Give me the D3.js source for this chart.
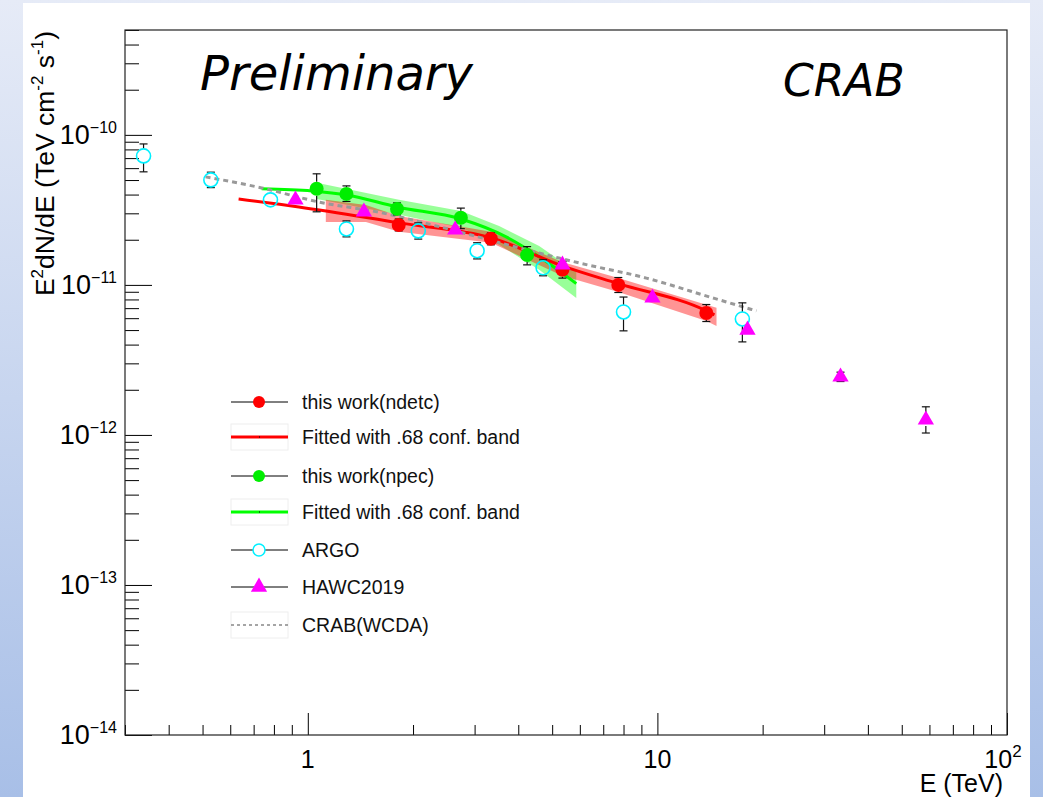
<!DOCTYPE html>
<html>
<head>
<meta charset="utf-8">
<script src="https://cdn.jsdelivr.net/npm/d3@7"></script>
<style>
  body { margin: 0; }
  svg { display: block; }
</style>
</head>
<body>
<svg id="chart" width="1043" height="797"></svg>
<script>
// ---- data (E in TeV, E^2 dN/dE in TeV cm^-2 s^-1) ----
var ndetcE  = [1.82, 3.34, 5.35, 7.73, 13.8];
var ndetcF  = [2.51e-11, 2.03e-11, 1.26e-11, 1.0e-11, 6.5e-12];
var ndetcLo = [2.29e-11, 1.85e-11, 1.11e-11, 8.9e-12, 5.7e-12];
var ndetcHi = [2.75e-11, 2.22e-11, 1.43e-11, 1.12e-11, 7.4e-12];

var npecE  = [1.06, 1.29, 1.80, 2.74, 4.24];
var npecF  = [4.37e-11, 4.04e-11, 3.21e-11, 2.80e-11, 1.58e-11];
var npecLo = [3.07e-11, 3.6e-11, 2.93e-11, 2.37e-11, 1.36e-11];
var npecHi = [5.5e-11, 4.57e-11, 3.52e-11, 3.25e-11, 1.8e-11];

var argoE  = [0.339, 0.528, 0.782, 1.29, 2.07, 3.05, 4.71, 8.0, 17.5];
var argoF  = [7.24e-11, 5.01e-11, 3.69e-11, 2.36e-11, 2.29e-11, 1.69e-11, 1.30e-11, 6.6e-12, 5.93e-12];
var argoLo = [5.67e-11, 4.45e-11, 3.69e-11, 2.09e-11, 2.02e-11, 1.49e-11, 1.15e-11, 4.94e-12, 4.17e-12];
var argoHi = [8.7e-11, 5.64e-11, 3.69e-11, 2.67e-11, 2.59e-11, 1.91e-11, 1.47e-11, 8.3e-12, 7.59e-12];

var hawcE  = [0.922, 1.447, 2.64, 5.35, 9.68, 18.1, 33.4, 58.6];
var hawcF  = [3.69e-11, 3.07e-11, 2.33e-11, 1.36e-11, 8.19e-12, 5.01e-12, 2.44e-12, 1.26e-12];
var hawcLo = [3.69e-11, 3.07e-11, 2.33e-11, 1.36e-11, 8.19e-12, 5.01e-12, 2.27e-12, 1.03e-12];
var hawcHi = [3.69e-11, 3.07e-11, 2.33e-11, 1.36e-11, 8.19e-12, 5.01e-12, 2.62e-12, 1.54e-12];

// fitted curves and their .68 bands
var ndetcFitE = [0.634, 0.943, 1.823, 3.345, 5.343, 7.732, 13.81, 14.56];
var ndetcFitF = [3.74e-11, 3.31e-11, 2.59e-11, 2.06e-11, 1.34e-11, 1.02e-11, 6.71e-12, 6.31e-12];
var ndetcBandE  = [1.126, 1.466, 1.823, 3.345, 5.343, 7.732, 13.81, 14.76];
var ndetcBandHi = [3.69e-11, 3.41e-11, 2.88e-11, 2.26e-11, 1.42e-11, 1.11e-11, 7.36e-12, 7.03e-12];
var ndetcBandLo = [2.63e-11, 2.63e-11, 2.26e-11, 1.91e-11, 1.15e-11, 8.98e-12, 5.75e-12, 5.33e-12];

var npecFitE = [0.738, 1.027, 1.293, 1.799, 2.744, 3.693, 4.590, 5.861];
var npecFitF = [4.37e-11, 4.23e-11, 3.98e-11, 3.31e-11, 2.75e-11, 2.09e-11, 1.54e-11, 1.02e-11];
var npecBandE  = [1.061, 1.823, 2.744, 3.526, 4.590, 5.861];
var npecBandHi = [4.79e-11, 3.69e-11, 3.11e-11, 2.47e-11, 1.82e-11, 1.22e-11];
var npecBandLo = [3.74e-11, 2.93e-11, 2.40e-11, 1.85e-11, 1.26e-11, 8.19e-12];

var crabE = [0.510, 0.738, 1.075, 1.63, 2.27, 4.59, 5.98, 9.30, 14.4, 19.2];
var crabF = [5.25e-11, 4.43e-11, 3.57e-11, 3.02e-11, 2.51e-11, 1.63e-11, 1.40e-11, 1.11e-11, 8.19e-12, 6.71e-12];

var xMajor = [1, 10, 100];
var yMajor = [1e-14, 1e-13, 1e-12, 1e-11, 1e-10];

var legendLabels = ["this work(ndetc)", "Fitted with .68 conf. band", "this work(npec)",
                    "Fitted with .68 conf. band", "ARGO", "HAWC2019", "CRAB(WCDA)"];

// ---- set up ----
var W = 1043, H = 797;
var frame = {left: 125, right: 1007, top: 30, bottom: 735};
var svg = d3.select("#chart");

var defs = svg.append("defs");
var grad = defs.append("linearGradient").attr("id", "bg").attr("x1", 0).attr("y1", 0).attr("x2", 0).attr("y2", 1);
grad.append("stop").attr("offset", "0%").attr("stop-color", "#e6ebf7");
grad.append("stop").attr("offset", "100%").attr("stop-color", "#a8bfe7");

svg.append("rect").attr("width", W).attr("height", H).attr("fill", "url(#bg)");
svg.append("rect").attr("x", 23).attr("y", 3).attr("width", 1007).attr("height", H - 3).attr("fill", "#fff");

var x = d3.scaleLog().domain([0.3, 100]).range([frame.left, frame.right]);
var y = d3.scaleLog().domain([1e-14, 5e-10]).range([frame.bottom, frame.top]);

var font = "'Liberation Sans', Arial, Helvetica, sans-serif";

function zipPts(es, fs) { return es.map(function(e, i) { return [e, fs[i]]; }); }

// ---- axes (ROOT style: ticks pointing inward, bottom/left only) ----
var xMinor = x.ticks().filter(function(t) { return xMajor.indexOf(t) < 0; });
var yMinor = y.ticks().filter(function(t) { return !yMajor.some(function(m) { return Math.abs(m - t) / m < 1e-6; }); });

function noDomain(g) { g.select(".domain").remove(); g.selectAll("line").attr("stroke", "#000"); }

svg.append("g").attr("transform", "translate(0," + frame.bottom + ")")
  .call(d3.axisBottom(x).tickValues(xMinor).tickSize(-10).tickFormat("")).call(noDomain);
svg.append("g").attr("transform", "translate(0," + frame.bottom + ")")
  .call(d3.axisBottom(x).tickValues(xMajor).tickSize(-22).tickFormat("")).call(noDomain);
svg.append("g").attr("transform", "translate(" + frame.left + ",0)")
  .call(d3.axisLeft(y).tickValues(yMinor).tickSize(-14).tickFormat("")).call(noDomain);
svg.append("g").attr("transform", "translate(" + frame.left + ",0)")
  .call(d3.axisLeft(y).tickValues(yMajor).tickSize(-27).tickFormat("")).call(noDomain);

svg.append("rect")
  .attr("x", frame.left).attr("y", frame.top)
  .attr("width", frame.right - frame.left).attr("height", frame.bottom - frame.top)
  .attr("fill", "none").attr("stroke", "#222").attr("stroke-width", 1.2);

// y tick labels 10^n
yMajor.forEach(function(v) {
  var t = svg.append("text").attr("x", 117).attr("y", y(v) + 9)
    .attr("text-anchor", "end").attr("font-family", font).attr("font-size", 27).attr("fill", "#000");
  t.append("tspan").text("10");
  t.append("tspan").attr("dy", -11).attr("font-size", 16).text("\u2212" + Math.round(-Math.log10(v)));
});

// x tick labels
svg.append("text").attr("x", x(1)).attr("y", 768).attr("text-anchor", "middle")
  .attr("font-family", font).attr("font-size", 25).text("1");
svg.append("text").attr("x", x(10)).attr("y", 768).attr("text-anchor", "middle")
  .attr("font-family", font).attr("font-size", 25).text("10");
var t100 = svg.append("text").attr("x", x(100) - 4).attr("y", 768).attr("text-anchor", "middle")
  .attr("font-family", font).attr("font-size", 25);
t100.append("tspan").text("10");
t100.append("tspan").attr("dy", -11).attr("font-size", 17).text("2");

// axis titles
svg.append("text").attr("x", 1003).attr("y", 792).attr("text-anchor", "end")
  .attr("font-family", font).attr("font-size", 25).text("E (TeV)");

var yt = svg.append("text").attr("transform", "translate(54,31) rotate(-90)")
  .attr("text-anchor", "end").attr("font-family", font).attr("font-size", 26.5);
yt.append("tspan").text("E");
yt.append("tspan").attr("dy", -11).attr("font-size", 17).text("2");
yt.append("tspan").attr("dy", 11).text("dN/dE (TeV cm");
yt.append("tspan").attr("dy", -11).attr("font-size", 17).text("-2");
yt.append("tspan").attr("dy", 11).text(" s");
yt.append("tspan").attr("dy", -11).attr("font-size", 17).text("-1");
yt.append("tspan").attr("dy", 11).text(")");

// ---- plot contents ----
var plot = svg.append("g");
var line = d3.line().x(function(d) { return x(d[0]); }).y(function(d) { return y(d[1]); }).curve(d3.curveMonotoneX);
var area = d3.area().x(function(d) { return x(d[0]); })
  .y0(function(d) { return y(d[1]); }).y1(function(d) { return y(d[2]); });

function band(es, lo, hi) { return es.map(function(e, i) { return [e, lo[i], hi[i]]; }); }

plot.append("path").attr("d", area(band(npecBandE, npecBandLo, npecBandHi)))
  .attr("fill", "#00ff00").attr("fill-opacity", 0.4);
plot.append("path").attr("d", area(band(ndetcBandE, ndetcBandLo, ndetcBandHi)))
  .attr("fill", "#ff0000").attr("fill-opacity", 0.42);

plot.append("path").attr("d", line(zipPts(npecFitE, npecFitF)))
  .attr("fill", "none").attr("stroke", "#00ff00").attr("stroke-width", 3);
plot.append("path").attr("d", line(zipPts(ndetcFitE, ndetcFitF)))
  .attr("fill", "none").attr("stroke", "#ff0000").attr("stroke-width", 3);
plot.append("path").attr("d", line(zipPts(crabE, crabF)))
  .attr("fill", "none").attr("stroke", "#999").attr("stroke-width", 3).attr("stroke-dasharray", "5,4");

// ROOT-style error bars: no line inside the marker, short end caps
function errorBars(es, fs, lo, hi, gap) {
  var g = plot.append("g").attr("stroke", "#111").attr("stroke-width", 1.2);
  es.forEach(function(e, i) {
    if (lo[i] === hi[i]) return;
    var cx = x(e), cy = y(fs[i]), y0 = y(lo[i]), y1 = y(hi[i]);
    if (y0 > cy + gap) g.append("line").attr("x1", cx).attr("x2", cx).attr("y1", cy + gap).attr("y2", y0);
    if (y1 < cy - gap) g.append("line").attr("x1", cx).attr("x2", cx).attr("y1", cy - gap).attr("y2", y1);
    g.append("line").attr("x1", cx - 4).attr("x2", cx + 4).attr("y1", y0).attr("y2", y0);
    g.append("line").attr("x1", cx - 4).attr("x2", cx + 4).attr("y1", y1).attr("y2", y1);
  });
}

errorBars(argoE, argoF, argoLo, argoHi, 7);
errorBars(ndetcE, ndetcF, ndetcLo, ndetcHi, 7);
errorBars(npecE, npecF, npecLo, npecHi, 7);
errorBars(hawcE, hawcF, hawcLo, hawcHi, 6);

plot.selectAll(".argo").data(zipPts(argoE, argoF)).enter().append("circle")
  .attr("cx", function(d) { return x(d[0]); }).attr("cy", function(d) { return y(d[1]); })
  .attr("r", 7).attr("fill", "none").attr("stroke", "#00f0ff").attr("stroke-width", 1.6);

plot.selectAll(".ndetc").data(zipPts(ndetcE, ndetcF)).enter().append("circle")
  .attr("cx", function(d) { return x(d[0]); }).attr("cy", function(d) { return y(d[1]); })
  .attr("r", 7).attr("fill", "#ff0000");

plot.selectAll(".npec").data(zipPts(npecE, npecF)).enter().append("circle")
  .attr("cx", function(d) { return x(d[0]); }).attr("cy", function(d) { return y(d[1]); })
  .attr("r", 7).attr("fill", "#00ee00");

var tri = d3.symbol().type(d3.symbolTriangle).size(115);
plot.selectAll(".hawc").data(zipPts(hawcE, hawcF)).enter().append("path")
  .attr("d", tri)
  .attr("transform", function(d) { return "translate(" + x(d[0]) + "," + y(d[1]) + ")"; })
  .attr("fill", "#ff00ff");

// ---- text overlays ----
svg.append("text").attr("x", 200).attr("y", 90).attr("font-family", "'DejaVu Sans', sans-serif")
  .attr("font-style", "italic").attr("font-size", 48).text("Preliminary");
svg.append("text").attr("x", 783).attr("y", 96).attr("font-family", "'DejaVu Sans', sans-serif")
  .attr("font-style", "italic").attr("font-size", 44).text("CRAB");

// ---- legend ----
var legRows = [402, 437, 476, 512, 550, 587, 625];
var leg = svg.append("g");
legendLabels.forEach(function(lab, i) {
  var ly = legRows[i];
  var row = leg.append("g");
  var kind = ["dot", "fit", "dot", "fit", "open", "tri", "dash"][i];
  if (kind === "fit" || kind === "dash") {
    row.append("rect").attr("x", 231).attr("y", ly - 13).attr("width", 57).attr("height", 26)
      .attr("fill", "none").attr("stroke", "#eee").attr("stroke-width", 1);
  }
  if (kind === "fit") {
    row.append("line").attr("x1", 231).attr("x2", 288).attr("y1", ly).attr("y2", ly)
      .attr("stroke", i === 1 ? "#ff0000" : "#00ff00").attr("stroke-width", 3);
    row.append("rect").attr("x", 259).attr("y", ly - 0.5).attr("width", 1).attr("height", 1).attr("fill", "#000");
  } else if (kind === "dash") {
    row.append("line").attr("x1", 231).attr("x2", 288).attr("y1", ly).attr("y2", ly)
      .attr("stroke", "#888").attr("stroke-width", 1.3).attr("stroke-dasharray", "3,3");
  } else {
    row.append("line").attr("x1", 231).attr("x2", 288).attr("y1", ly).attr("y2", ly)
      .attr("stroke", "#000").attr("stroke-width", 1);
    if (kind === "dot") {
      row.append("circle").attr("cx", 259).attr("cy", ly).attr("r", 6)
        .attr("fill", i === 0 ? "#ff0000" : "#00ee00");
    } else if (kind === "open") {
      row.append("circle").attr("cx", 259).attr("cy", ly).attr("r", 6)
        .attr("fill", "#fff").attr("stroke", "#00f0ff").attr("stroke-width", 1.5);
    } else {
      row.append("path").attr("d", tri).attr("transform", "translate(259," + ly + ")").attr("fill", "#ff00ff");
    }
  }
  row.append("text").attr("x", 302).attr("y", ly + 7).attr("font-family", font)
    .attr("font-size", 19.5).attr("fill", "#111").text(lab);
});
</script>
</body>
</html>
